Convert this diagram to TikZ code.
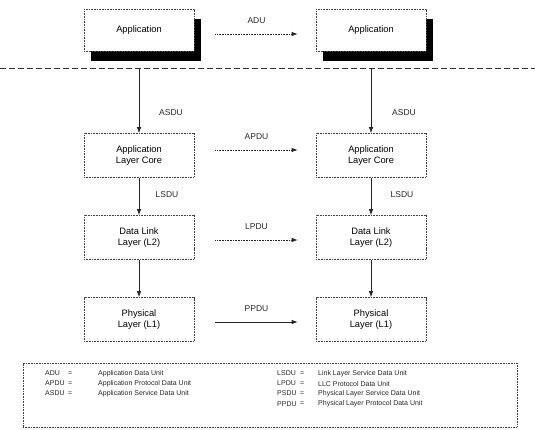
\documentclass[tikz,border=0pt]{standalone}
\usepackage{fontspec}
\setmainfont{Liberation Sans}
\usetikzlibrary{arrows.meta,shadows}
\begin{document}
\begin{tikzpicture}[x=1pt,y=-1pt,
  boxst/.style={draw=black!75, dash pattern=on 1pt off 0.6pt, line width=0.7pt, fill=white, minimum width=110pt, inner sep=1pt, align=center, font=\fontsize{9.3}{11.5}\selectfont},
  appbox/.style={boxst, minimum height=42pt, drop shadow={shadow xshift=7pt, shadow yshift=-10pt, fill=black, draw=none, opacity=1}},
  laybox/.style={boxst, minimum height=44pt},
  flow/.style={draw=black!85, -{Latex[length=6pt,width=4.5pt]}, line width=0.75pt},
  peer/.style={flow, dash pattern=on 1pt off 0.6pt},
  lbl/.style={font=\fontsize{8.5}{10}\selectfont, inner sep=1pt, text=black!85},
  leg/.style={font=\fontsize{7}{9}\selectfont, anchor=west, inner sep=0pt, text=black!85}
]
\useasboundingbox (0,0) rectangle (535,430);

% application boxes
\node[appbox] (app1) at (139,30) {Application};
\node[appbox] (app2) at (371,30) {Application};

% separating line
\draw[black!80, line width=0.8pt, dash pattern=on 6pt off 3pt] (0,68) coordinate (dl) -- (535,68) coordinate (dr);

% layer boxes
\node[laybox] (alc1) at (139,155.5) {Application\\Layer Core};
\node[laybox] (dll1) at (139,237.5) {Data Link\\Layer (L2)};
\node[laybox] (phy1) at (139,319.5) {Physical\\Layer (L1)};
\node[laybox] (alc2) at (371,155.5) {Application\\Layer Core};
\node[laybox] (dll2) at (371,237.5) {Data Link\\Layer (L2)};
\node[laybox] (phy2) at (371,319.5) {Physical\\Layer (L1)};

% vertical arrows
\draw[flow] (app1.south |- dl) -- (alc1.north);
\draw[flow] (app2.south |- dl) -- (alc2.north);
\draw[flow] (alc1) -- (dll1);
\draw[flow] (alc2) -- (dll2);
\draw[flow] (dll1) -- (phy1);
\draw[flow] (dll2) -- (phy2);

\node[lbl] (asdu1) at (171,113) {ASDU};
\node[lbl] (asdu2) at (404,113) {ASDU};
\node[lbl] (lsdu1) at (167,195) {LSDU};
\node[lbl] (lsdu2) at (402,195) {LSDU};

% peer arrows
\draw[peer] ([shift={(21,4)}]app1.east) -- node[lbl, above=9.5pt] (adu) {ADU} ([shift={(-18,4)}]app2.west);
\draw[peer] ([shift={(21,-5.5)}]alc1.east) -- node[lbl, above=9.5pt] (apdu) {APDU} ([shift={(-18,-5.5)}]alc2.west);
\draw[peer] ([shift={(21,2.5)}]dll1.east) -- node[lbl, above=9.5pt] (lpdu) {LPDU} ([shift={(-18,2.5)}]dll2.west);
\draw[flow] ([shift={(21,2.5)}]phy1.east) -- node[lbl, above=9.5pt] (ppdu) {PPDU} ([shift={(-18,2.5)}]phy2.west);

% legend
\node[draw=black!75, dash pattern=on 1pt off 0.6pt, line width=0.7pt, minimum width=494pt, minimum height=64pt, inner sep=0pt] (legend) at (270,395) {};

\node[leg] (l1a) at (45,373.3) {ADU};
\node[leg] (l1b) at (68,373.3) {=};
\node[leg] (l1c) at (98,373.3) {Application Data Unit};
\node[leg] (l2a) at (45,383.5) {APDU};
\node[leg] (l2b) at (68,383.5) {=};
\node[leg] (l2c) at (98,383.5) {Application Protocol Data Unit};
\node[leg] (l3a) at (45,393.5) {ASDU};
\node[leg] (l3b) at (68,393.5) {=};
\node[leg] (l3c) at (98,393.5) {Application Service Data Unit};

\node[leg] (r1a) at (277,373.3) {LSDU};
\node[leg] (r1b) at (300,373.3) {=};
\node[leg] (r1c) at (318,373.3) {Link Layer Service Data Unit};
\node[leg] (r2a) at (277,383.5) {LPDU};
\node[leg] (r2b) at (300,383.5) {=};
\node[leg] (r2c) at (318,383.5) {LLC Protocol Data Unit};
\node[leg] (r3a) at (277,393.5) {PSDU};
\node[leg] (r3b) at (300,393.5) {=};
\node[leg] (r3c) at (318,393.5) {Physical Layer Service Data Unit};
\node[leg] (r4a) at (277,404) {PPDU};
\node[leg] (r4b) at (300,404) {=};
\node[leg] (r4c) at (318,404) {Physical Layer Protocol Data Unit};
\end{tikzpicture}
\end{document}
